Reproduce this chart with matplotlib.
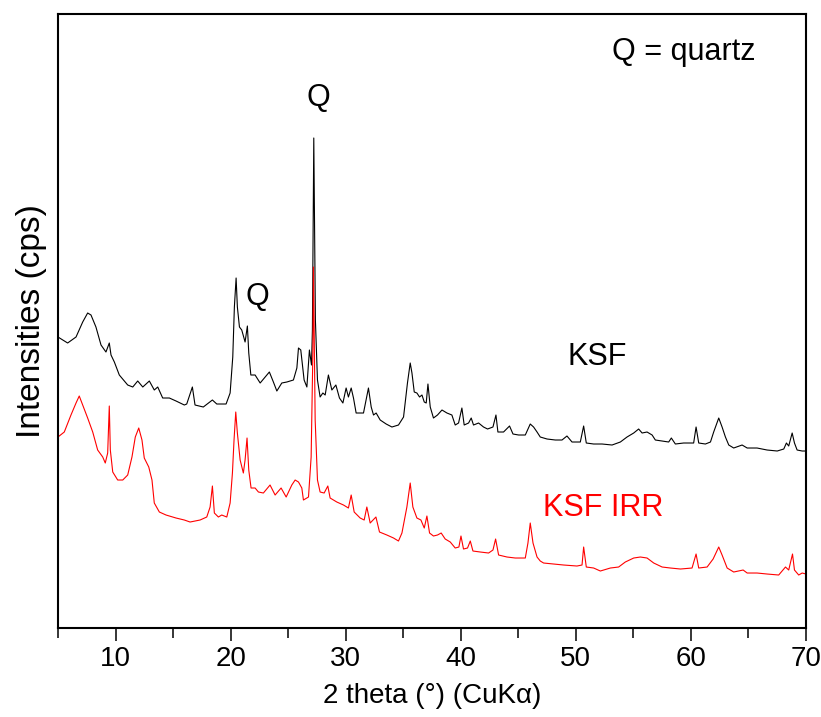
import numpy as np
import matplotlib
matplotlib.use("Agg")
import matplotlib.pyplot as plt
from matplotlib.ticker import MultipleLocator

plt.rcParams['font.family'] = ['Liberation Sans', 'DejaVu Sans']

# KSF pattern (2 theta in degrees, intensity in arbitrary units)
ksf_2theta = [5.00, 5.84, 6.57, 7.15, 7.58, 7.87, 8.30, 8.74, 9.17, 9.46, 9.61, 9.90,
              10.33, 11.06, 11.50, 11.93, 12.37, 12.94, 13.37, 13.67, 14.10, 14.68, 15.26,
              15.98, 16.19, 16.68, 16.91, 17.63, 18.42, 18.80, 19.61, 19.96, 20.19, 20.33,
              20.48, 20.59, 20.77, 20.97, 21.26, 21.46, 21.58, 21.76, 22.13, 22.57, 23.00,
              23.37, 23.72, 24.02, 24.45, 24.89, 25.46, 25.76, 25.90, 26.10, 26.39, 26.63,
              26.85, 27.03, 27.11, 27.23, 27.37, 27.55, 27.78, 28.02, 28.22, 28.50, 28.80,
              29.15, 29.46, 29.76, 30.04, 30.24, 30.48, 30.68, 30.91, 31.55, 31.98, 32.22,
              32.42, 32.65, 33.00, 33.52, 34.02, 34.59, 35.03, 35.37, 35.61, 35.76, 35.96,
              36.19, 36.42, 36.63, 36.83, 37.00, 37.15, 37.35, 37.63, 37.98, 38.37, 38.80,
              39.23, 39.52, 39.81, 40.10, 40.30, 40.68, 40.91, 41.11, 41.55, 41.98, 42.33,
              42.80, 43.06, 43.23, 43.72, 44.24, 44.54, 45.03, 45.61, 46.04, 46.33, 46.63,
              46.91, 47.50, 48.22, 48.80, 49.23, 49.67, 50.39, 50.68, 50.91, 51.55, 52.28,
              53.15, 53.87, 54.45, 55.03, 55.46, 55.76, 56.19, 56.63, 56.91, 57.50, 58.07,
              58.30, 58.65, 59.37, 60.24, 60.45, 60.68, 61.26, 61.70, 61.98, 62.42, 62.71,
              63.00, 63.29, 63.72, 64.45, 64.89, 65.75, 66.62, 67.50, 68.07, 68.30, 68.50,
              68.80, 69.00, 69.23, 69.67, 70.00]
ksf_int = [291, 285, 291, 306, 315, 313, 301, 283, 276, 285, 273, 266,
           253, 243, 241, 247, 241, 247, 238, 241, 230, 230, 227,
           223, 224, 241, 223, 221, 228, 224, 224, 235, 271, 321,
           350, 321, 301, 298, 286, 302, 275, 253, 253, 245, 251,
           256, 246, 237, 245, 246, 248, 260, 280, 278, 248, 241,
           278, 263, 298, 490, 308, 248, 231, 235, 233, 253, 238,
           243, 230, 225, 240, 231, 240, 230, 215, 215, 240, 221,
           213, 215, 208, 204, 201, 203, 211, 245, 265, 255, 236,
           235, 231, 233, 226, 225, 244, 221, 210, 213, 218, 215,
           213, 203, 205, 220, 203, 205, 210, 203, 205, 201, 199,
           201, 213, 196, 196, 202, 194, 193, 193, 204, 201, 196,
           191, 189, 188, 188, 192, 186, 186, 202, 185, 184, 184,
           183, 186, 191, 195, 199, 195, 196, 193, 188, 187, 186,
           190, 184, 185, 185, 201, 185, 184, 186, 196, 210, 201,
           191, 183, 180, 183, 180, 180, 178, 177, 179, 185, 182,
           195, 185, 178, 177, 177]

# KSF IRR pattern
irr_2theta = [5.00, 5.55, 6.13, 6.57, 6.85, 7.15, 7.58, 8.02, 8.45, 8.89, 9.11, 9.32,
              9.46, 9.55, 9.76, 10.19, 10.63, 11.06, 11.43, 11.72, 12.02, 12.30, 12.50,
              12.89, 13.17, 13.37, 13.81, 14.39, 15.26, 15.98, 16.48, 17.35, 17.93, 18.22,
              18.42, 18.59, 18.94, 19.23, 19.67, 19.96, 20.16, 20.30, 20.45, 20.59, 20.83,
              21.11, 21.26, 21.43, 21.58, 21.78, 22.13, 22.42, 22.85, 23.43, 23.87, 24.39,
              24.83, 25.32, 25.61, 25.90, 26.19, 26.33, 26.77, 27.00, 27.15, 27.20, 27.35,
              27.55, 27.78, 28.13, 28.45, 28.65, 29.23, 29.81, 30.24, 30.48, 30.74, 31.26,
              31.61, 31.84, 32.13, 32.63, 32.94, 33.58, 34.16, 34.59, 34.89, 35.32, 35.61,
              35.84, 36.19, 36.54, 36.83, 37.06, 37.29, 37.63, 37.98, 38.30, 38.65, 39.09,
              39.52, 39.84, 40.02, 40.24, 40.59, 40.83, 41.06, 41.70, 42.42, 42.80, 43.03,
              43.29, 44.02, 44.74, 45.61, 45.84, 46.04, 46.28, 46.63, 46.91, 47.20, 48.07,
              48.94, 50.10, 50.54, 50.68, 50.91, 51.55, 52.13, 53.00, 53.72, 54.30, 55.03,
              55.61, 56.19, 56.77, 57.50, 58.22, 59.09, 60.10, 60.45, 60.68, 61.41, 61.93,
              62.42, 62.71, 63.15, 63.72, 64.54, 64.89, 65.75, 66.62, 67.63, 68.22, 68.50,
              68.83, 69.00, 69.37, 69.67, 70.00]
irr_int = [191, 196, 213, 225, 232, 223, 210, 196, 178, 171, 165, 175,
           222, 178, 156, 148, 148, 153, 171, 191, 200, 188, 170,
           161, 148, 125, 116, 113, 110, 108, 106, 108, 111, 121,
           142, 115, 111, 113, 111, 125, 155, 188, 216, 195, 168,
           155, 168, 190, 158, 140, 140, 136, 135, 143, 133, 140,
           131, 143, 148, 146, 140, 128, 131, 171, 275, 361, 208,
           148, 136, 135, 142, 130, 126, 123, 120, 133, 116, 110,
           108, 121, 105, 111, 96, 93, 90, 87, 95, 121, 145,
           121, 110, 108, 100, 112, 95, 92, 93, 95, 89, 86,
           80, 81, 92, 79, 80, 87, 77, 76, 75, 78, 89,
           73, 71, 70, 70, 85, 105, 85, 71, 67, 65, 64,
           63, 62, 63, 81, 61, 60, 57, 60, 61, 66, 70,
           71, 70, 65, 61, 60, 59, 60, 74, 60, 61, 69,
           81, 73, 60, 56, 58, 55, 55, 54, 53, 61, 58,
           74, 58, 53, 55, 54]

fig = plt.figure(figsize=(8.21, 7.17), dpi=100)
ax = fig.add_axes([0.0706, 0.1241, 0.9111, 0.8564])

ax.plot(ksf_2theta, ksf_int, color='black', lw=0.8)
ax.plot(irr_2theta, irr_int, color='#ff0000', lw=0.8)

ax.set_xlim(5, 70)
ax.set_ylim(0, 614)
ax.xaxis.set_major_locator(MultipleLocator(10))
ax.xaxis.set_minor_locator(MultipleLocator(5))
ax.set_yticks([])
ax.tick_params(axis='x', which='major', direction='out', length=9, width=1.1, pad=4,
               labelsize=20)
ax.tick_params(axis='x', which='minor', direction='out', length=7, width=1.1)
for sp in ax.spines.values():
    sp.set_linewidth(1.5)

ax.set_xlabel('2 theta (°) (CuK\u03b1)', fontsize=20, labelpad=8)
ax.set_ylabel('Intensities (cps)', fontsize=24, labelpad=8)

ax.text(59.35, 576, 'Q = quartz', fontsize=22, ha='center', va='center')
ax.text(27.6, 530, 'Q', fontsize=22, ha='center', va='center')
ax.text(22.3, 331, 'Q', fontsize=22, ha='center', va='center')
ax.text(51.87, 271, 'KSF', fontsize=22, ha='center', va='center')
ax.text(52.4, 120, 'KSF IRR', fontsize=22, ha='center', va='center', color='#ff0000')

fig.savefig('out.png', dpi=100)
